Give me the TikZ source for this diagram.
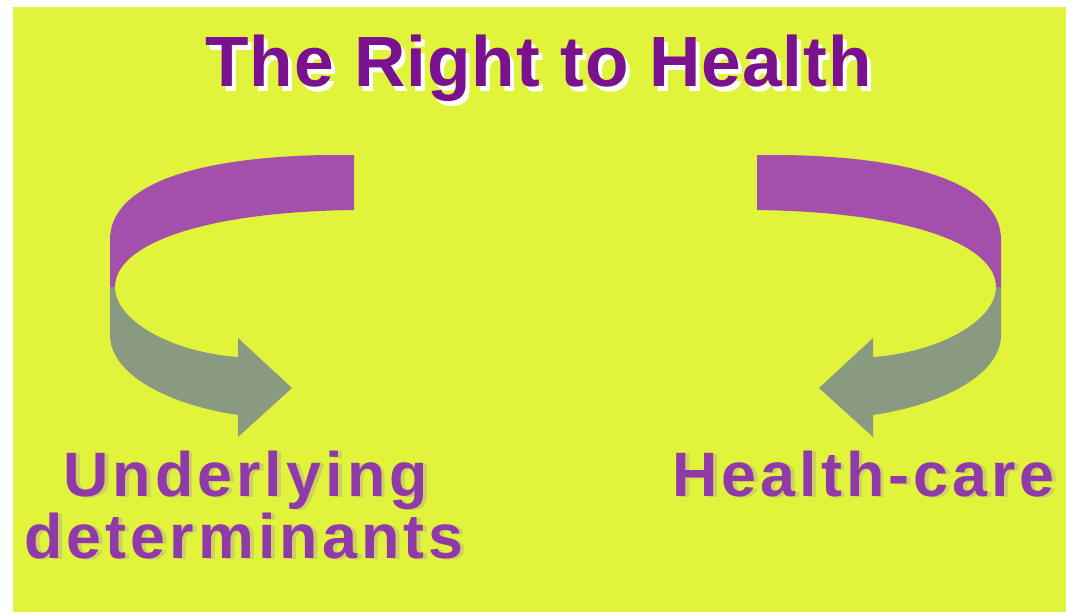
\documentclass[tikz,border=0pt]{standalone}
\usepackage{fontspec}
\usetikzlibrary{calc}
\newfontfamily\headfont{Liberation Sans}[LetterSpace=1.3]
\newfontfamily\tagfont{Liberation Sans}[LetterSpace=6.5]
\definecolor{bg}{RGB}{225,243,58}
\definecolor{headpurple}{RGB}{122,18,144}
\definecolor{tagpurple}{RGB}{143,58,168}
\definecolor{tagshadow}{RGB}{206,208,98}
\definecolor{bandpurple}{RGB}{163,79,171}
\definecolor{bandgrey}{RGB}{138,154,128}
% text with a drop shadow behind it, in one box
\newcommand\shadowtext[4]{\makebox[0pt][l]{\hspace*{#2}\raisebox{#3}{\textcolor{#1}{#4}}}#4}
\tikzset{
head/.style={anchor=base,inner sep=0pt,text=headpurple,font=\headfont\bfseries\fontsize{53.4}{60}\selectfont},
tag/.style={anchor=base,inner sep=0pt,text=tagpurple,font=\tagfont\bfseries\fontsize{47.1}{50}\selectfont},
}
\begin{document}
\begin{tikzpicture}[x=0.75pt,y=-0.75pt]
\useasboundingbox (0,0) rectangle (1066,612);
\fill[white] (0,0) rectangle (1066,612);
\fill[bg] (13,7) rectangle (1066,612);
%\draw[help lines,step=50] (0,0) grid (1066,612);
\foreach \s/\o in {1/0,-1/1111}{
\begin{scope}[shift={(\o,0)},xscale=\s]
\fill[bandpurple] (354,155) -- (324,155) .. controls (180,158) and (110,190) .. (110,240)
  -- (110,287) -- (115,287) .. controls (115,245) and (200,212) .. (354,210) -- cycle;
\fill[bandgrey] (110,287) -- (110,335) .. controls (110,375) and (170,405) .. (238,415)
  -- (238,437) -- (292,388) -- (238,338) -- (238,357) .. controls (170,352) and (115,320) .. (115,287) -- cycle;
\end{scope}}
\node[head] (title) at (538.5,86) {\shadowtext{white}{3pt}{-3.75pt}{The Right to Health}};
\foreach \n/\t/\x/\y in {under/Underlying/245.5/496,determ/determinants/244/558,care/Health-care/863.5/496}
\node[tag] (\n) at (\x,\y) {\shadowtext{tagshadow}{3pt}{-0.75pt}{\t}};
\end{tikzpicture}
\end{document}
